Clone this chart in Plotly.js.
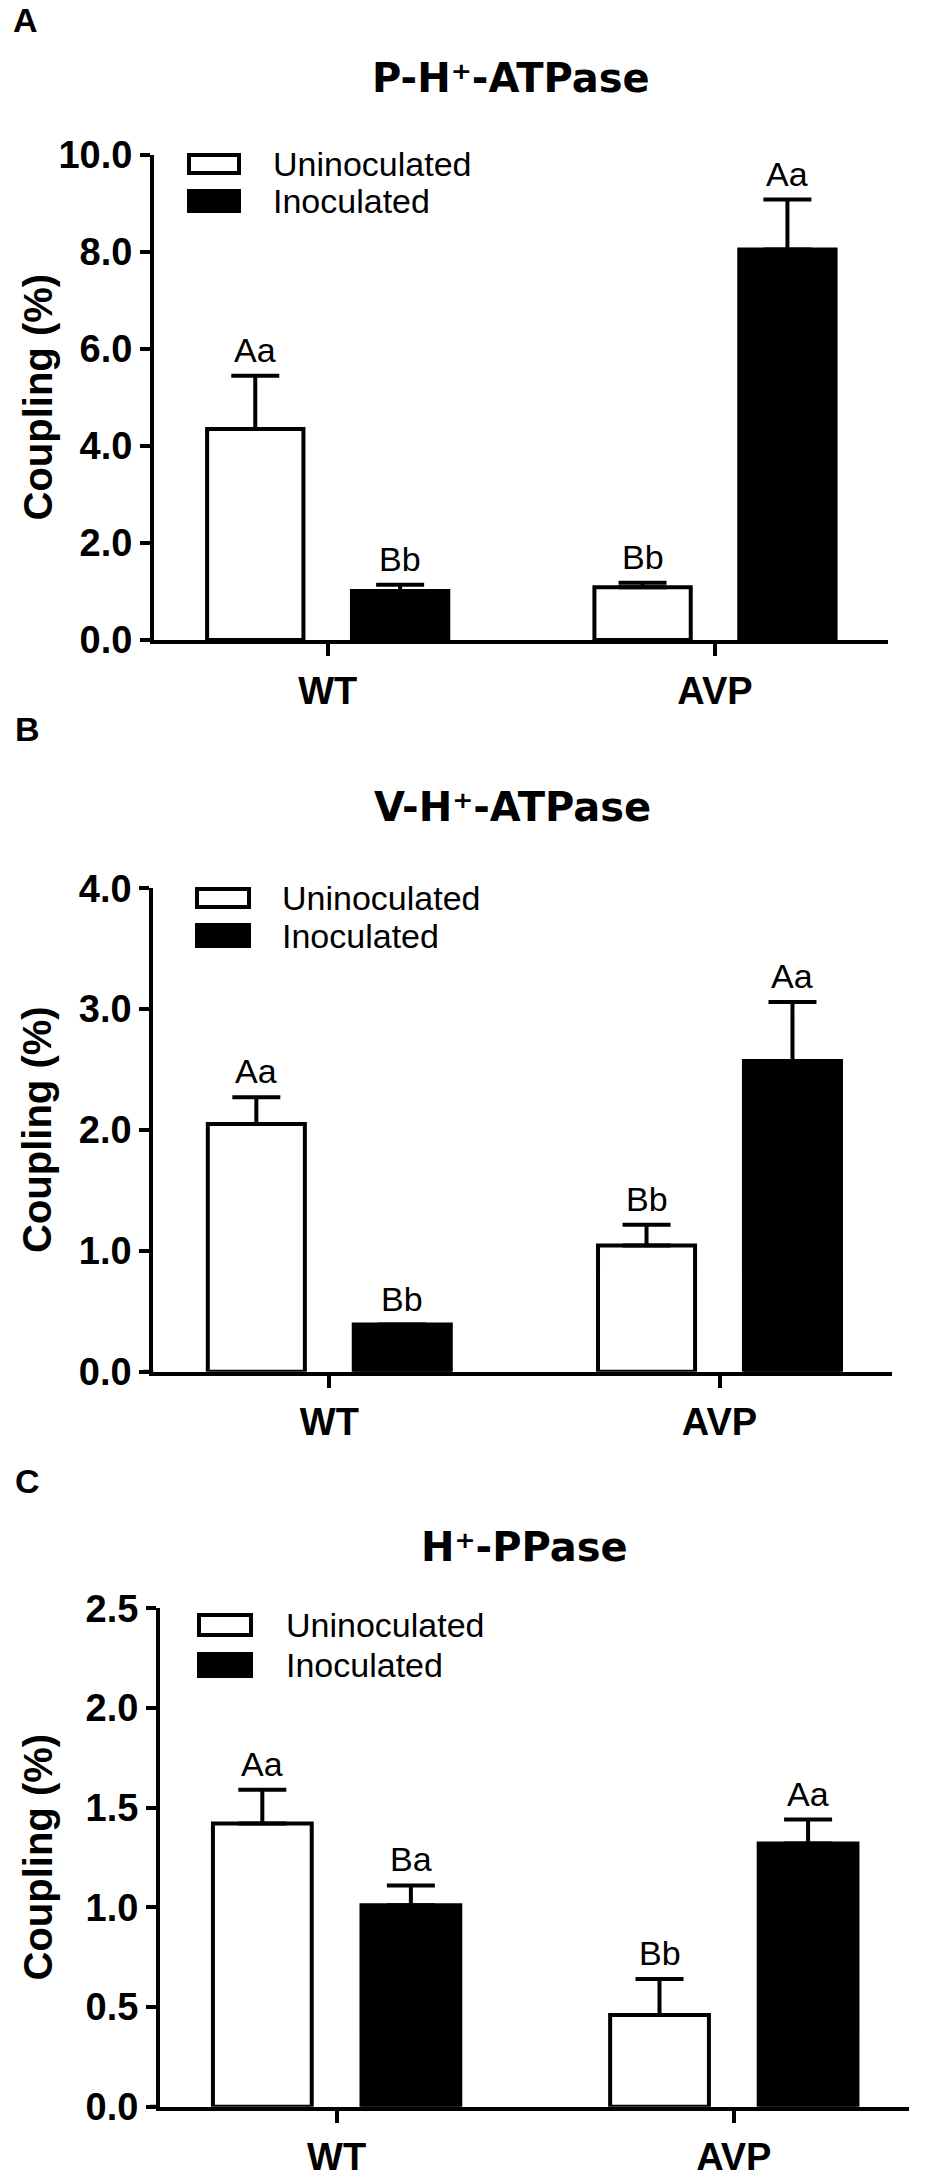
<!DOCTYPE html>
<html><head><meta charset="utf-8">
<script src="https://cdn.plot.ly/plotly-3.0.1.min.js"></script>
<style>html,body{margin:0;padding:0;background:#fff}</style>
</head><body><div id="chart" style="width:926px;height:2184px"></div>
<script>
// ---------- data ----------
const categories = ['WT', 'AVP'];
const seriesNames = ['Uninoculated', 'Inoculated'];
const panelTitles = ['P-H\u207A-ATPase', 'V-H\u207A-ATPase', 'H\u207A-PPase'];
const panelLetters = ['A', 'B', 'C'];
const yAxisTitle = 'Coupling (%)';

// Panel A: P-H+-ATPase
const pUninocMean = [4.35, 1.09];
const pUninocErr  = [1.10, 0.09];
const pInocMean   = [1.01, 8.05];
const pInocErr    = [0.13, 1.03];
const pUninocSig  = ['Aa', 'Bb'];
const pInocSig    = ['Bb', 'Aa'];

// Panel B: V-H+-ATPase
const vUninocMean = [2.05, 1.045];
const vUninocErr  = [0.22, 0.17];
const vInocMean   = [0.39, 2.57];
const vInocErr    = [0.00, 0.49];
const vUninocSig  = ['Aa', 'Bb'];
const vInocSig    = ['Bb', 'Aa'];

// Panel C: H+-PPase
const hUninocMean = [1.42, 0.46];
const hUninocErr  = [0.17, 0.18];
const hInocMean   = [1.01, 1.32];
const hInocErr    = [0.10, 0.12];
const hUninocSig  = ['Aa', 'Bb'];
const hInocSig    = ['Ba', 'Aa'];

const yMax  = [10, 4, 2.5];
const yStep = [2, 1, 0.5];

// ---------- layout geometry (pixels in the 926x2184 figure) ----------
const W = 926, H = 2184;
const geom = [
  {x0:154, x1:888, yTop:155,  yBot:640,  wt:327.7, avp:715,
   leg:{bx0:189, bx1:239, w0:155, w1:173, b0:189, b1:213, tx:271},
   title:{x:511, y:78}, letter:{x:12, top:0}},
  {x0:153.3, x1:892, yTop:888.3, yBot:1371.7, wt:329.3, avp:719.5,
   leg:{bx0:197, bx1:249, w0:889, w1:907, b0:923, b1:948, tx:280},
   title:{x:512, y:807}, letter:{x:14, top:709}},
  {x0:160, x1:909, yTop:1608.3, yBot:2106.7, wt:336.6, avp:733.8,
   leg:{bx0:199, bx1:251, w0:1615, w1:1635, b0:1652, b1:1678, tx:284},
   title:{x:524.5, y:1547}, letter:{x:14, top:1461}}
];
const yTitleX = 37;
const px = x => x / W;
const py = y => 1 - y / H;

const FONT = 'Liberation Sans, Arial, Helvetica, sans-serif';
const TITLE_FONT = 'DejaVu Sans, Liberation Sans, Arial, sans-serif';
const panelData = [
  [pUninocMean, pUninocErr, pInocMean, pInocErr, pUninocSig, pInocSig],
  [vUninocMean, vUninocErr, vInocMean, vInocErr, vUninocSig, vInocSig],
  [hUninocMean, hUninocErr, hInocMean, hInocErr, hUninocSig, hInocSig]
];

const traces = [];
const annotations = [];
const shapes = [];
const layout = {
  width: W, height: H,
  margin: {l:0, r:0, t:0, b:0},
  paper_bgcolor: '#fff', plot_bgcolor: '#fff',
  barmode: 'group', bargap: 0.252, bargroupgap: 0.335,
  showlegend: false,
  font: {family: FONT, color: '#000'}
};

const barOffset = 0.187;

panelData.forEach((pd, i) => {
  const [uM, uE, iM, iE, uS, iS] = pd;
  const g = geom[i];
  const s = i === 0 ? '' : String(i + 1);
  const xa = 'x' + s, ya = 'y' + s;
  const spacing = g.avp - g.wt;
  const r0 = -(g.wt - g.x0) / spacing;
  const r1 = 1 + (g.x1 - g.avp) / spacing;

  const errStyle = {type:'data', symmetric:false, color:'#000', thickness:4, width:24};
  traces.push({
    type:'bar', name: seriesNames[0], x: categories, y: uM,
    xaxis: xa, yaxis: ya,
    marker: {color:'#ffffff', line:{color:'#000', width:4}},
    error_y: Object.assign({array: uE, arrayminus: uE.map(() => 0)}, errStyle),
    hoverinfo: 'x+y+name'
  });
  traces.push({
    type:'bar', name: seriesNames[1], x: categories, y: iM,
    xaxis: xa, yaxis: ya,
    marker: {color:'#000000', line:{color:'#000', width:4}},
    error_y: Object.assign({array: iE, arrayminus: iE.map(() => 0)}, errStyle),
    hoverinfo: 'x+y+name'
  });

  layout['xaxis' + s] = {
    domain: [px(g.x0), px(g.x1)], anchor: ya,
    type: 'category', categoryorder: 'array', categoryarray: categories,
    range: [r0, r1], fixedrange: true,
    showline: true, linecolor: '#000', linewidth: 4,
    ticks: 'outside', ticklen: 12, tickwidth: 4, tickcolor: '#000',
    showgrid: false, zeroline: false,
    tickfont: {family: FONT, size: 38, weight: 'bold', color:'#000'},
    ticklabelstandoff: 2
  };
  layout['yaxis' + s] = {
    domain: [py(g.yBot), py(g.yTop)], anchor: xa,
    range: [0, yMax[i]], dtick: yStep[i], tick0: 0, tickformat: '.1f',
    fixedrange: true,
    showline: true, linecolor: '#000', linewidth: 4,
    ticks: 'outside', ticklen: 10, tickwidth: 4, tickcolor: '#000',
    showgrid: false, zeroline: false,
    tickfont: {family: FONT, size: 38, weight: 'bold', color:'#000'},
    ticklabelstandoff: 0
  };

  // y-axis title (rotated), centred on the plot area
  annotations.push({xref:'paper', yref:'paper', x: px(yTitleX), y: py((g.yTop + g.yBot) / 2),
    text: yAxisTitle, textangle: -90, showarrow:false, xanchor:'center', yanchor:'middle',
    font:{family: FONT, size: 40, weight:'bold', color:'#000'}});

  // x-axis line stub extending left of the y axis
  shapes.push({type:'line', xref:'paper', yref: ya, x0: px(g.x0 - 10), x1: px(g.x0), y0: 0, y1: 0,
    line:{color:'#000', width:4}});

  // significance letters above error bars
  categories.forEach((c, j) => {
    annotations.push({xref: xa, yref: ya, x: j - barOffset, y: uM[j] + uE[j], text: uS[j],
      showarrow:false, yanchor:'bottom', yshift: 5, font:{family: FONT, size: 34, color:'#000'}});
    annotations.push({xref: xa, yref: ya, x: j + barOffset, y: iM[j] + iE[j], text: iS[j],
      showarrow:false, yanchor:'bottom', yshift: 5, font:{family: FONT, size: 34, color:'#000'}});
  });

  // panel title
  annotations.push({xref:'paper', yref:'paper', x: px(g.title.x), y: py(g.title.y), text: panelTitles[i],
    showarrow:false, xanchor:'center', yanchor:'middle',
    font:{family: TITLE_FONT, size: 40, weight:'bold', color:'#000'}});
  // panel letter
  annotations.push({xref:'paper', yref:'paper', x: px(g.letter.x), y: py(g.letter.top), text: panelLetters[i],
    showarrow:false, xanchor:'left', yanchor:'top', borderpad: 0,
    font:{family: FONT, size: 34, weight:'bold', color:'#000'}});

  // legend (swatches + labels)
  const L = g.leg;
  shapes.push({type:'rect', xref:'paper', yref:'paper', x0: px(L.bx0), x1: px(L.bx1), y0: py(L.w1), y1: py(L.w0),
    fillcolor:'#fff', line:{color:'#000', width:4}});
  shapes.push({type:'rect', xref:'paper', yref:'paper', x0: px(L.bx0 - 2), x1: px(L.bx1 + 2), y0: py(L.b1), y1: py(L.b0),
    fillcolor:'#000', line:{color:'#000', width:0}});
  annotations.push({xref:'paper', yref:'paper', x: px(L.tx), y: py((L.w0 + L.w1) / 2), text: seriesNames[0],
    showarrow:false, xanchor:'left', yanchor:'middle', font:{family: FONT, size: 34, color:'#000'}});
  annotations.push({xref:'paper', yref:'paper', x: px(L.tx), y: py((L.b0 + L.b1) / 2), text: seriesNames[1],
    showarrow:false, xanchor:'left', yanchor:'middle', font:{family: FONT, size: 34, color:'#000'}});
});

layout.annotations = annotations;
layout.shapes = shapes;

Plotly.newPlot('chart', traces, layout, {displayModeBar:false, staticPlot:true});
</script>
</body></html>
